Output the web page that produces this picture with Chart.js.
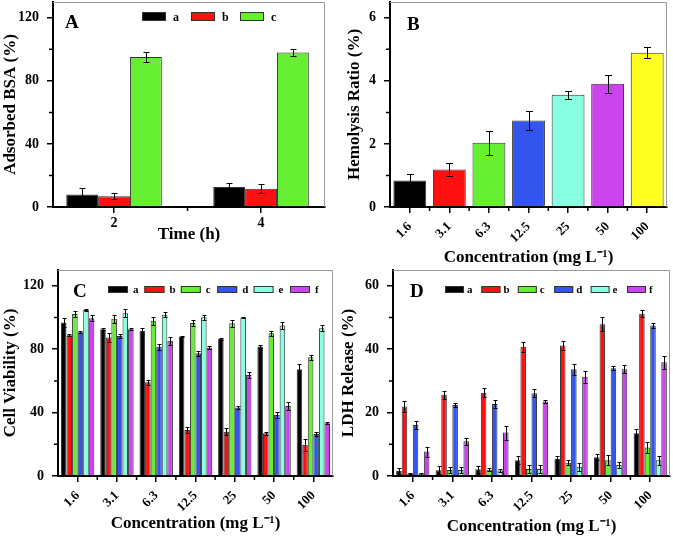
<!DOCTYPE html>
<html>
<head>
<meta charset="utf-8">
<script src="https://cdn.jsdelivr.net/npm/chart.js@4.4.0/dist/chart.umd.min.js"></script>
<style>
  body { margin: 0; background: #fff; }
  #wrap { position: relative; width: 673px; height: 540px; overflow: hidden; }
  canvas { position: absolute; }
</style>
</head>
<body>
<div id="wrap">
  <canvas id="chartA" width="336" height="270" style="left:0;top:0"></canvas>
  <canvas id="chartB" width="337" height="270" style="left:336px;top:0"></canvas>
  <canvas id="chartC" width="336" height="272" style="left:0;top:268px"></canvas>
  <canvas id="chartD" width="337" height="272" style="left:336px;top:268px"></canvas>
</div>
<script>
// Panel A - adsorbed BSA
const timeLabels = ['2', '4'];
const bsaA = [8.0, 12.7];
const bsaAErr = [4.2, 2.5];
const bsaB = [6.8, 11.6];
const bsaBErr = [2.0, 2.7];
const bsaC = [95.2, 98.0];
const bsaCErr = [3.2, 2.5];

// Panel B - hemolysis
const concLabels = ['1.6', '3.1', '6.3', '12.5', '25', '50', '100'];
const hemolysis = [0.84, 1.19, 2.04, 2.74, 3.56, 3.91, 4.89];
const hemolysisErr = [0.20, 0.22, 0.38, 0.30, 0.13, 0.29, 0.18];

// Panel C - cell viability
const viabA = [96.8, 92.6, 91.6, 88.0, 86.5, 81.7, 67.4];
const viabAErr = [2.7, 0.5, 2.0, 0.5, 0.5, 1.0, 3.2];
const viabB = [88.8, 87.4, 59.2, 29.0, 28.0, 27.0, 19.6];
const viabBErr = [0.5, 2.7, 1.5, 2.1, 2.1, 1.0, 3.8];
const viabC = [102.3, 99.2, 97.9, 96.6, 96.4, 90.1, 74.9];
const viabCErr = [1.9, 2.5, 2.3, 2.1, 2.1, 1.7, 1.5];
const viabD = [90.7, 88.4, 81.5, 77.5, 43.2, 38.5, 26.5];
const viabDErr = [0.5, 1.3, 2.1, 1.5, 1.0, 2.1, 1.5];
const viabE = [104.8, 102.7, 101.7, 100.2, 100.0, 95.0, 93.3];
const viabEErr = [0.8, 2.5, 1.5, 1.5, 0.6, 2.1, 2.1];
const viabF = [99.6, 92.6, 85.3, 81.0, 63.8, 44.2, 33.3];
const viabFErr = [1.7, 0.5, 2.7, 1.0, 2.1, 2.7, 0.5];

// Panel D - LDH release
const ldhA = [1.6, 1.8, 2.1, 5.0, 5.4, 5.9, 13.5];
const ldhAErr = [1.0, 1.2, 1.0, 1.2, 1.0, 1.0, 1.2];
const ldhB = [21.9, 25.6, 26.3, 40.8, 41.2, 47.9, 51.2];
const ldhBErr = [1.8, 1.3, 1.4, 1.6, 1.3, 2.3, 1.1];
const ldhC = [0.8, 1.9, 2.0, 2.2, 4.2, 5.0, 9.0];
const ldhCErr = [0.3, 1.0, 0.5, 1.2, 0.8, 1.5, 1.7];
const ldhD = [16.1, 22.4, 22.7, 26.1, 33.7, 34.0, 47.5];
const ldhDErr = [1.2, 0.7, 1.3, 1.3, 1.7, 0.6, 0.9];
const ldhE = [0.6, 1.9, 1.7, 2.2, 2.9, 3.5, 5.0];
const ldhEErr = [0.3, 1.0, 0.5, 1.2, 1.2, 1.0, 1.4];
const ldhF = [7.7, 11.0, 13.7, 23.5, 31.3, 33.7, 35.9];
const ldhFErr = [1.6, 1.1, 2.2, 0.5, 1.9, 1.3, 2.1];

const seriesNames = ['a', 'b', 'c', 'd', 'e', 'f'];
const seriesColors = ['#000000', '#ff1010', '#66ee33', '#3355ee', '#88ffe0', '#cc44ee'];
const hemoColors = ['#000000', '#ff1010', '#66ee33', '#3355ee', '#88ffe0', '#cc44ee', '#ffff22'];

const FONT = "'Liberation Serif', 'Times New Roman', serif";
const bold = (size) => ({ family: FONT, weight: 'bold', size });

// error bars, minor ticks, frame, in-plot legend and panel letter
const decoPlugin = {
  id: 'deco',
  afterDatasetsDraw(chart, args, opts) {
    const ctx = chart.ctx;
    const ys = chart.scales.y;
    ctx.save();
    ctx.strokeStyle = '#000';
    ctx.lineWidth = 1;
    chart.data.datasets.forEach((ds, i) => {
      const meta = chart.getDatasetMeta(i);
      meta.data.forEach((bar, j) => {
        const v = ds.data[j], e = ds.errors[j];
        const y1 = Math.round(ys.getPixelForValue(v + e)) + 0.5;
        const y2 = Math.round(ys.getPixelForValue(Math.max(v - e, 0))) + 0.5;
        const x = Math.round(bar.x) + 0.5;
        ctx.beginPath();
        ctx.moveTo(x, y1); ctx.lineTo(x, y2);
        ctx.moveTo(x - opts.cap, y1); ctx.lineTo(x + opts.cap, y1);
        ctx.moveTo(x - opts.cap, y2); ctx.lineTo(x + opts.cap, y2);
        ctx.stroke();
      });
    });
    ctx.restore();
  },
  afterDraw(chart, args, opts) {
    const ctx = chart.ctx;
    const { left, right, top, bottom } = chart.chartArea;
    const xs = chart.scales.x, ys = chart.scales.y;
    ctx.save();
    // light frame on top and right
    ctx.strokeStyle = '#9a9a9a';
    ctx.lineWidth = 1;
    ctx.beginPath();
    ctx.moveTo(left, top + 0.5);
    ctx.lineTo(right - 0.5, top + 0.5);
    ctx.lineTo(right - 0.5, bottom);
    ctx.stroke();
    // minor ticks
    ctx.strokeStyle = '#000';
    ctx.lineWidth = 1.5;
    ctx.beginPath();
    const step = ys.options.ticks.stepSize;
    for (let v = step / 2; v < ys.max; v += step) {
      const y = ys.getPixelForValue(v);
      ctx.moveTo(left - 4, y); ctx.lineTo(left, y);
    }
    const n = xs.ticks.length;
    for (let i = 0; i < n - 1; i++) {
      const x = (xs.getPixelForTick(i) + xs.getPixelForTick(i + 1)) / 2;
      ctx.moveTo(x, bottom); ctx.lineTo(x, bottom + 4);
    }
    ctx.stroke();
    // legend
    const lg = opts.legend;
    if (lg) {
      ctx.font = 'bold ' + lg.font + 'px ' + FONT;
      ctx.textBaseline = 'middle';
      chart.data.datasets.forEach((ds, i) => {
        const bx = lg.x + i * lg.step;
        ctx.fillStyle = ds.backgroundColor;
        ctx.fillRect(bx, lg.y, lg.w, lg.h);
        ctx.strokeStyle = '#333';
        ctx.lineWidth = 1;
        ctx.strokeRect(bx + 0.5, lg.y + 0.5, lg.w - 1, lg.h - 1);
        ctx.fillStyle = '#000';
        ctx.fillText(ds.label, bx + lg.tx, lg.y + lg.h / 2 + 1);
      });
    }
    // panel letter
    ctx.font = 'bold 19px ' + FONT;
    ctx.textBaseline = 'alphabetic';
    ctx.fillStyle = '#000';
    ctx.fillText(opts.letter, opts.lx, opts.ly);
    ctx.restore();
  }
};

function makePanel(id, o) {
  const gridOpts = { display: true, offset: false, drawOnChartArea: false, tickLength: 6, color: '#000', lineWidth: 1.5 };
  const xScale = {
    afterFit: (s) => { s.height = o.xH; s.paddingLeft = 0; s.paddingRight = 0; },
    grid: gridOpts,
    border: { color: '#000', width: 2 },
    ticks: { color: '#000', font: bold(o.xFont), autoSkip: false, maxRotation: o.rot, minRotation: o.rot, padding: o.xTickPad },
    title: { display: true, text: o.xTitle, color: '#000', font: bold(17), padding: { top: 0, bottom: o.xTitlePad } }
  };
  if (o.xRange) {
    // time axis is numeric in the original plot
    Object.assign(xScale, { type: 'linear', offset: false, min: o.xRange[0], max: o.xRange[1] });
    Object.assign(xScale.ticks, { stepSize: 2, includeBounds: false });
  }
  return new Chart(document.getElementById(id), {
    type: 'bar',
    data: { labels: o.labels, datasets: o.datasets },
    options: {
      responsive: false,
      animation: false,
      devicePixelRatio: 1,
      layout: { padding: o.pad, autoPadding: false },
      datasets: { bar: { categoryPercentage: o.catPct, barPercentage: o.barPct, borderWidth: 1, borderColor: '#333' } },
      plugins: { legend: { display: false }, tooltip: { enabled: false }, deco: o.deco },
      scales: {
        x: xScale,
        y: {
          min: 0,
          max: o.yMax,
          afterFit: (s) => { s.width = o.yW; s.paddingTop = 0; s.paddingBottom = 0; },
          grid: gridOpts,
          border: { color: '#000', width: 2 },
          ticks: { stepSize: o.yStep, includeBounds: false, color: '#000', font: bold(14), padding: 8 },
          title: { display: true, text: o.yTitle, color: '#000', font: bold(17), padding: { top: o.yTitlePad, bottom: 0 } }
        }
      }
    },
    plugins: [decoPlugin]
  });
}

function groupSets(values, errors) {
  return values.map((vals, i) => ({
    label: seriesNames[i],
    data: vals,
    errors: errors[i],
    backgroundColor: seriesColors[i]
  }));
}

makePanel('chartA', {
  labels: timeLabels,
  datasets: groupSets([bsaA, bsaB, bsaC], [bsaAErr, bsaBErr, bsaCErr]),
  pad: { left: 0, right: 11, top: 2, bottom: 0 },
  catPct: 0.65, barPct: 1,
  xRange: [1.17, 4.87],
  xH: 63, yW: 53, yMax: 130, yStep: 40,
  rot: 0, xFont: 14, xTickPad: 2, xTitlePad: 25, yTitlePad: 0,
  xTitle: 'Time (h)', yTitle: 'Adsorbed BSA (%)',
  deco: { cap: 3, letter: 'A', lx: 65, ly: 28,
    legend: { x: 142, y: 12, step: 49, w: 24, h: 9, tx: 31, font: 12 } }
});

makePanel('chartB', {
  labels: concLabels,
  datasets: [{ label: 'hemolysis', data: hemolysis, errors: hemolysisErr, backgroundColor: hemoColors }],
  pad: { left: 0, right: 6, top: 2, bottom: 0 },
  catPct: 1, barPct: 0.83,
  xH: 63, yW: 54, yMax: 6.5, yStep: 2,
  rot: 45, xFont: 13, xTickPad: 6, xTitlePad: 2, yTitlePad: 8,
  xTitle: 'Concentration (mg L\u207B\u00B9)', yTitle: 'Hemolysis Ratio (%)',
  deco: { cap: 3.5, letter: 'B', lx: 71, ly: 30 }
});

makePanel('chartC', {
  labels: concLabels,
  datasets: groupSets([viabA, viabB, viabC, viabD, viabE, viabF],
    [viabAErr, viabBErr, viabCErr, viabDErr, viabEErr, viabFErr]),
  pad: { left: 0, right: 3, top: 2, bottom: 0 },
  catPct: 0.85, barPct: 1,
  xH: 64, yW: 58, yMax: 130, yStep: 40,
  rot: 45, xFont: 13, xTickPad: 6, xTitlePad: 6, yTitlePad: 0,
  xTitle: 'Concentration (mg L\u207B\u00B9)', yTitle: 'Cell Viability (%)',
  deco: { cap: 2, letter: 'C', lx: 73, ly: 29,
    legend: { x: 108, y: 18, step: 36.4, w: 20, h: 7, tx: 25, font: 11 } }
});

makePanel('chartD', {
  labels: concLabels,
  datasets: groupSets([ldhA, ldhB, ldhC, ldhD, ldhE, ldhF],
    [ldhAErr, ldhBErr, ldhCErr, ldhDErr, ldhEErr, ldhFErr]),
  pad: { left: 0, right: 3, top: 2, bottom: 0 },
  catPct: 0.84, barPct: 1,
  xH: 64, yW: 57, yMax: 65, yStep: 20,
  rot: 45, xFont: 13, xTickPad: 6, xTitlePad: 3, yTitlePad: 2,
  xTitle: 'Concentration (mg L\u207B\u00B9)', yTitle: 'LDH Release (%)',
  deco: { cap: 2, letter: 'D', lx: 74, ly: 29,
    legend: { x: 109, y: 18, step: 36.4, w: 19, h: 7, tx: 22, font: 11 } }
});
</script>
</body>
</html>
